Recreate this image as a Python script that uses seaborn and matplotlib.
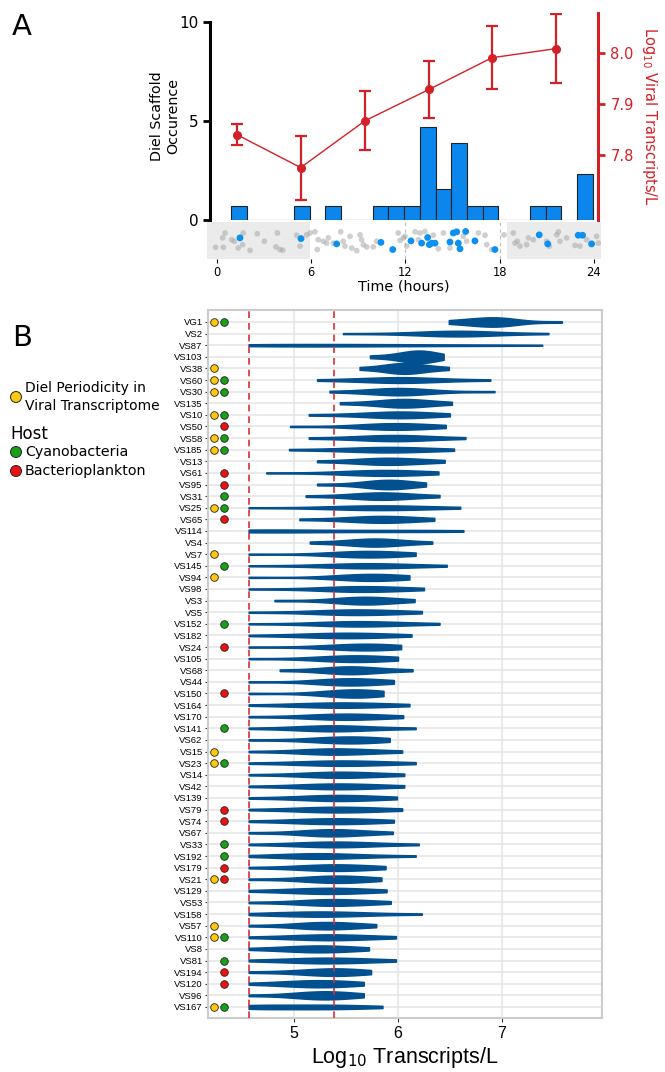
import matplotlib
matplotlib.use("Agg")
import matplotlib.pyplot as plt
import numpy as np
import pandas as pd
import seaborn as sns

# ---------------- Panel A data ----------------
bin_hour = [1, 2, 3, 4, 5, 6, 7, 8, 9, 10, 11, 12, 13, 14, 15, 16, 17, 18, 19, 20, 21, 22, 23]
scaffold_occurence = [0.72, 0, 0, 0, 0.72, 0, 0.72, 0, 0, 0.72, 0.72, 0.72,
                      4.67, 1.55, 3.9, 0.72, 0.72, 0, 0, 0.72, 0.72, 0, 2.32]

viral_hours = [1.27, 5.34, 9.43, 13.53, 17.51, 21.6]
viral_log = [7.84, 7.775, 7.867, 7.929, 7.991, 8.009]
viral_err = [0.021, 0.063, 0.058, 0.056, 0.062, 0.067]

# peak times of transcripts (strip under panel A)
gray_hours = [-0.07, 0.42, 0.53, 0.38, 0.95, 1.12, 1.37, 1.65, 1.69, 2.12, 2.58, 3.03,
              3.77, 3.86, 4.03, 4.20, 5.09, 5.30, 5.41, 5.72, 5.94, 6.25, 6.40, 6.46,
              6.78, 6.99, 7.10, 7.42, 7.89, 8.05, 8.16, 8.48, 8.59, 8.91, 9.12, 9.22,
              9.33, 9.54, 9.96, 10.18, 11.55, 11.66, 11.87, 11.98, 12.09, 12.62, 12.83,
              12.93, 13.25, 13.78, 14.10, 14.42, 14.84, 15.69, 15.90, 16.65, 17.07,
              17.18, 17.49, 18.28, 18.87, 18.98, 19.13, 19.30, 19.72, 19.83, 20.15,
              20.99, 21.16, 21.63, 21.74, 21.84, 22.26, 22.80, 23.11, 23.54, 24.17, 24.28]
gray_jitter = [0.32, 0.32, 0.70, 0.57, 0.52, 0.48, 0.30, 0.39, 0.70, 0.24, 0.68, 0.48,
               0.33, 0.70, 0.26, 0.24, 0.64, 0.35, 0.55, 0.65, 0.70, 0.73, 0.26, 0.52,
               0.48, 0.43, 0.57, 0.43, 0.73, 0.48, 0.35, 0.61, 0.30, 0.23, 0.65, 0.52,
               0.39, 0.33, 0.33, 0.48, 0.70, 0.50, 0.57, 0.61, 0.35, 0.73, 0.52,
               0.70, 0.74, 0.64, 0.28, 0.70, 0.30, 0.61, 0.48, 0.70, 0.64,
               0.39, 0.26, 0.65, 0.70, 0.43, 0.48, 0.35, 0.39, 0.57, 0.52,
               0.48, 0.35, 0.65, 0.73, 0.48, 0.57, 0.37, 0.35, 0.52, 0.61, 0.43]
blue_hours = [1.48, 5.36, 7.63, 10.45, 11.20, 12.36, 13.04, 13.42, 13.53, 13.68, 13.89,
              14.84, 15.05, 15.27, 15.37, 15.48, 15.84, 16.43, 17.70, 20.52, 21.06,
              23.0, 23.28, 23.85]
blue_jitter = [0.57, 0.55, 0.41, 0.45, 0.26, 0.49, 0.43, 0.58, 0.39, 0.43, 0.43,
               0.46, 0.70, 0.73, 0.43, 0.28, 0.74, 0.49, 0.26, 0.65, 0.41,
               0.64, 0.64, 0.41]

# ---------------- Panel B data ----------------
scaffolds = ["VG1", "VS2", "VS87", "VS103", "VS38", "VS60", "VS30", "VS135", "VS10", "VS50",
             "VS58", "VS185", "VS13", "VS61", "VS95", "VS31", "VS25", "VS65", "VS114", "VS4",
             "VS7", "VS145", "VS94", "VS98", "VS3", "VS5", "VS152", "VS182", "VS24", "VS105",
             "VS68", "VS44", "VS150", "VS164", "VS170", "VS141", "VS62", "VS15", "VS23", "VS14",
             "VS42", "VS139", "VS79", "VS74", "VS67", "VS33", "VS192", "VS179", "VS21", "VS129",
             "VS53", "VS158", "VS57", "VS110", "VS8", "VS81", "VS194", "VS120", "VS96", "VS167"]

diel = ["VG1", "VS38", "VS60", "VS30", "VS10", "VS58", "VS185", "VS25", "VS7", "VS94",
        "VS15", "VS23", "VS21", "VS57", "VS110", "VS167"]
cyanobacteria = ["VG1", "VS60", "VS30", "VS10", "VS58", "VS185", "VS31", "VS25", "VS145",
                 "VS152", "VS141", "VS23", "VS33", "VS192", "VS110", "VS81", "VS167"]
bacterioplankton = ["VS50", "VS61", "VS95", "VS65", "VS24", "VS150", "VS79", "VS74",
                    "VS179", "VS21", "VS194", "VS120"]

# log10 transcripts/L per scaffold
transcripts = [
    [6.49, 6.6, 6.72, 6.82, 6.88, 6.92, 6.95, 6.98, 7.05, 7.15, 7.58],
    [5.47, 6.15, 6.35, 6.48, 6.55, 6.6, 6.65, 6.75, 6.9, 7.45],
    [4.56, 4.7, 4.9, 5.1, 5.4, 5.7, 6.0, 6.4, 6.9, 7.39],
    [5.73, 5.95, 6.05, 6.12, 6.17, 6.2, 6.23, 6.28, 6.35, 6.44],
    [5.63, 5.85, 5.95, 6.0, 6.05, 6.08, 6.12, 6.2, 6.3, 6.49],
    [5.22, 5.6, 5.8, 5.92, 6.0, 6.05, 6.12, 6.25, 6.45, 6.89],
    [5.34, 5.75, 5.88, 5.95, 6.0, 6.03, 6.08, 6.15, 6.3, 6.93],
    [5.44, 5.75, 5.88, 5.97, 6.03, 6.07, 6.12, 6.2, 6.32, 6.52],
    [5.14, 5.55, 5.75, 5.88, 5.96, 6.02, 6.08, 6.18, 6.3, 6.5],
    [4.96, 5.6, 5.75, 5.86, 5.93, 5.98, 6.05, 6.15, 6.3, 6.46],
    [5.14, 5.55, 5.72, 5.85, 5.93, 5.99, 6.06, 6.17, 6.32, 6.65],
    [4.95, 5.4, 5.6, 5.75, 5.85, 5.92, 6.0, 6.12, 6.3, 6.54],
    [5.22, 5.55, 5.7, 5.8, 5.87, 5.93, 6.0, 6.1, 6.25, 6.45],
    [4.73, 5.4, 5.6, 5.72, 5.82, 5.88, 5.95, 6.05, 6.2, 6.39],
    [5.22, 5.6, 5.75, 5.83, 5.88, 5.91, 5.95, 6.02, 6.12, 6.27],
    [5.11, 5.5, 5.65, 5.75, 5.81, 5.86, 5.92, 6.0, 6.15, 6.4],
    [4.56, 5.3, 5.5, 5.65, 5.77, 5.85, 5.95, 6.08, 6.25, 6.6],
    [5.05, 5.45, 5.6, 5.72, 5.8, 5.86, 5.93, 6.02, 6.15, 6.35],
    [4.56, 4.58, 4.62, 4.7, 5.0, 5.4, 5.8, 6.1, 6.4, 6.63],
    [5.15, 5.45, 5.6, 5.7, 5.75, 5.79, 5.85, 5.93, 6.05, 6.33],
    [4.56, 5.3, 5.48, 5.6, 5.67, 5.72, 5.78, 5.86, 5.98, 6.17],
    [4.56, 5.2, 5.42, 5.57, 5.66, 5.73, 5.82, 5.95, 6.12, 6.47],
    [4.56, 5.35, 5.52, 5.63, 5.7, 5.75, 5.8, 5.87, 5.97, 6.11],
    [4.56, 5.2, 5.38, 5.5, 5.6, 5.68, 5.76, 5.86, 6.0, 6.25],
    [4.81, 5.35, 5.5, 5.6, 5.65, 5.69, 5.74, 5.82, 5.93, 6.16],
    [4.56, 5.15, 5.32, 5.45, 5.55, 5.63, 5.72, 5.83, 5.98, 6.23],
    [4.56, 5.2, 5.36, 5.48, 5.57, 5.65, 5.74, 5.86, 6.05, 6.4],
    [4.56, 5.0, 5.18, 5.32, 5.43, 5.53, 5.63, 5.74, 5.88, 6.13],
    [4.56, 5.2, 5.4, 5.53, 5.62, 5.68, 5.74, 5.82, 5.92, 6.03],
    [4.56, 5.18, 5.33, 5.44, 5.52, 5.6, 5.67, 5.76, 5.87, 6.0],
    [4.86, 5.25, 5.38, 5.47, 5.52, 5.56, 5.61, 5.7, 5.85, 6.14],
    [4.56, 5.2, 5.33, 5.42, 5.49, 5.55, 5.61, 5.7, 5.82, 5.96],
    [4.56, 5.2, 5.38, 5.48, 5.54, 5.58, 5.62, 5.68, 5.76, 5.86],
    [4.56, 4.98, 5.15, 5.28, 5.39, 5.49, 5.6, 5.72, 5.88, 6.11],
    [4.56, 5.08, 5.24, 5.35, 5.44, 5.52, 5.6, 5.7, 5.84, 6.05],
    [4.56, 5.02, 5.16, 5.27, 5.35, 5.41, 5.48, 5.6, 5.8, 6.17],
    [4.56, 5.1, 5.26, 5.38, 5.46, 5.53, 5.6, 5.68, 5.78, 5.92],
    [4.56, 5.05, 5.18, 5.28, 5.36, 5.43, 5.51, 5.62, 5.8, 6.04],
    [4.56, 5.0, 5.18, 5.3, 5.4, 5.5, 5.6, 5.72, 5.88, 6.17],
    [4.56, 5.05, 5.2, 5.31, 5.4, 5.47, 5.55, 5.66, 5.82, 6.06],
    [4.56, 5.0, 5.15, 5.27, 5.37, 5.46, 5.55, 5.66, 5.82, 6.06],
    [4.56, 5.0, 5.15, 5.27, 5.37, 5.45, 5.54, 5.64, 5.78, 5.99],
    [4.56, 4.98, 5.14, 5.26, 5.36, 5.45, 5.55, 5.66, 5.82, 6.04],
    [4.56, 4.95, 5.1, 5.22, 5.32, 5.42, 5.52, 5.62, 5.76, 5.96],
    [4.56, 5.05, 5.18, 5.27, 5.34, 5.39, 5.45, 5.54, 5.68, 5.95],
    [4.56, 5.0, 5.15, 5.27, 5.36, 5.43, 5.52, 5.63, 5.82, 6.2],
    [4.56, 4.9, 5.03, 5.13, 5.21, 5.3, 5.4, 5.53, 5.75, 6.17],
    [4.56, 4.98, 5.13, 5.24, 5.33, 5.41, 5.49, 5.58, 5.7, 5.88],
    [4.56, 5.05, 5.18, 5.28, 5.36, 5.42, 5.49, 5.57, 5.68, 5.84],
    [4.56, 4.9, 5.05, 5.17, 5.27, 5.36, 5.45, 5.55, 5.68, 5.89],
    [4.56, 5.02, 5.15, 5.26, 5.34, 5.4, 5.48, 5.58, 5.72, 5.93],
    [4.56, 4.85, 5.0, 5.12, 5.22, 5.32, 5.43, 5.56, 5.76, 6.23],
    [4.56, 4.98, 5.1, 5.2, 5.27, 5.33, 5.4, 5.49, 5.62, 5.79],
    [4.56, 4.92, 5.07, 5.19, 5.29, 5.38, 5.47, 5.58, 5.74, 5.98],
    [4.56, 4.85, 4.98, 5.09, 5.18, 5.26, 5.34, 5.43, 5.55, 5.72],
    [4.56, 4.9, 5.05, 5.17, 5.27, 5.36, 5.46, 5.57, 5.74, 5.98],
    [4.56, 4.95, 5.12, 5.24, 5.32, 5.38, 5.44, 5.52, 5.62, 5.74],
    [4.56, 4.85, 4.98, 5.08, 5.17, 5.25, 5.33, 5.42, 5.53, 5.67],
    [4.56, 4.95, 5.08, 5.17, 5.24, 5.3, 5.36, 5.44, 5.54, 5.67],
    [4.56, 4.58, 4.65, 4.85, 5.05, 5.2, 5.32, 5.45, 5.6, 5.85],
]
thresholds = [4.563, 5.386]

# ---------------- colours ----------------
BAR_BLUE = "#0a86ec"
RED = "#d42027"
VIOLIN_BLUE = "#02508f"
DOT_BLUE = "#0a90f0"
YELLOW = "#ffc80a"
GREEN = "#18a018"
HOST_RED = "#ee1111"

sns.set_style("white")
plt.rcParams["font.family"] = ["DejaVu Sans"]
plt.rcParams.update({"text.color": "black", "axes.labelcolor": "black",
                     "xtick.color": "black", "ytick.color": "black"})

fig = plt.figure(figsize=(6.65, 10.72), dpi=100)

# ---------------- Panel A ----------------
ax_a = fig.add_axes([0.3162, 0.7948, 0.5838, 0.1931])
ax_a.bar(np.array(bin_hour) - 0.08, scaffold_occurence, width=1.0, align="edge",
         color=BAR_BLUE, edgecolor="#222222", linewidth=0.8, zorder=2)
ax_a.set_xlim(-0.41, 24.29)
ax_a.set_ylim(0, 10.44)
ax_a.set_xticks([])
ax_a.set_yticks([0, 5, 10])
for side in ["top", "bottom", "right"]:
    ax_a.spines[side].set_visible(False)
ax_a.spines["left"].set_bounds(0, 10)
ax_a.spines["left"].set_linewidth(2.2)
ax_a.spines["left"].set_color("black")
ax_a.tick_params(axis="y", length=5, width=2, labelsize=11, direction="out", left=True)
ax_a.set_ylabel("Diel Scaffold\nOccurence", fontsize=10.3, labelpad=-1, linespacing=1.2)

ax_r = ax_a.twinx()
ax_r.errorbar(viral_hours, viral_log, yerr=viral_err, color=RED, lw=1.0,
              marker="o", markersize=5.5, elinewidth=1.6, capsize=4, capthick=1.6)
ax_r.set_ylim(7.672, 8.079)
ax_r.set_xlim(-0.41, 24.29)
for side in ["top", "bottom", "left"]:
    ax_r.spines[side].set_visible(False)
ax_r.spines["right"].set_color(RED)
ax_r.spines["right"].set_linewidth(2.2)
ax_r.set_yticks([7.8, 7.9, 8.0])
ax_r.tick_params(axis="y", colors=RED, length=5, width=2, labelsize=10.5, right=True)
ax_r.set_ylabel("Log$_{10}$ Viral Transcripts/L", color=RED, fontsize=10.5,
                rotation=270, labelpad=18)

# strip of peak times
ax_s = fig.add_axes([0.3117, 0.7581, 0.5923, 0.0351])
ax_s.axvspan(-0.6, 5.95, color="#ebebeb", lw=0, zorder=0)
ax_s.axvspan(18.47, 24.46, color="#ebebeb", lw=0, zorder=0)
for h in [12, 18]:
    ax_s.axvline(h, color="#bbbbbb", lw=0.8, ls=(0, (3, 3)), zorder=1)
sns.scatterplot(x=gray_hours, y=gray_jitter, color="#a8a8a8", alpha=0.55, s=17,
                edgecolor="none", ax=ax_s, zorder=2)
sns.scatterplot(x=blue_hours, y=blue_jitter, color=DOT_BLUE, s=24,
                edgecolor="none", ax=ax_s, zorder=3)
ax_s.set_xlim(-0.6, 24.46)
ax_s.set_ylim(0, 1)
for side in ax_s.spines:
    ax_s.spines[side].set_visible(False)
ax_s.set_yticks([])
ax_s.set_xticks([0, 6, 12, 18, 24])
ax_s.tick_params(axis="x", length=3, width=0.8, labelsize=8.3, bottom=True, pad=2)
ax_s.set_xlabel("Time (hours)", fontsize=10.4, labelpad=0)

# ---------------- Panel B ----------------
df = pd.DataFrame({
    "scaffold": [s for s, vals in zip(scaffolds, transcripts) for _ in vals],
    "log_tpl": [v for vals in transcripts for v in vals],
})

ax_b = fig.add_axes([0.3132, 0.0504, 0.5916, 0.6604])
sns.violinplot(data=df, x="log_tpl", y="scaffold", order=scaffolds, orient="h",
               cut=0, density_norm="area", inner=None, width=1.08, saturation=1,
               color=VIOLIN_BLUE, linecolor=VIOLIN_BLUE, linewidth=1.1, ax=ax_b, zorder=3)
for t in thresholds:
    ax_b.axvline(t, color="#d93030", lw=1.2, ls=(0, (4, 3)), zorder=5)

diel_rows = [s for s in scaffolds if s in diel]
cyano_rows = [s for s in scaffolds if s in cyanobacteria]
bact_rows = [s for s in scaffolds if s in bacterioplankton]
sns.scatterplot(x=[4.229] * len(diel_rows), y=diel_rows, color=YELLOW, s=30,
                edgecolor="#222222", linewidth=0.6, ax=ax_b, zorder=6)
sns.scatterplot(x=[4.325] * len(cyano_rows), y=cyano_rows, color=GREEN, s=30,
                edgecolor="#222222", linewidth=0.6, ax=ax_b, zorder=6)
sns.scatterplot(x=[4.325] * len(bact_rows), y=bact_rows, color=HOST_RED, s=30,
                edgecolor="#222222", linewidth=0.6, ax=ax_b, zorder=6)

ax_b.set_xlim(4.171, 7.964)
ax_b.set_ylim(59.95, -1.03)
ax_b.set_xticks([5, 6, 7])
ax_b.set_yticks(range(len(scaffolds)))
ax_b.set_yticklabels(scaffolds)
ax_b.grid(True, color="#e6e6e6", lw=1.2, zorder=0)
ax_b.set_axisbelow(True)
for side in ax_b.spines:
    ax_b.spines[side].set_visible(True)
    ax_b.spines[side].set_color("#cccccc")
    ax_b.spines[side].set_linewidth(1.5)
ax_b.tick_params(axis="y", length=2.5, width=0.8, color="#333333", labelsize=6.8,
                 pad=1.5, left=True)
ax_b.tick_params(axis="x", length=3, width=0.8, color="#333333", labelsize=11.5,
                 pad=3, bottom=True)
for lab in ax_b.get_yticklabels() + ax_b.get_xticklabels():
    lab.set_fontfamily(["Liberation Sans", "DejaVu Sans"])
ax_b.set_ylabel("")
ax_b.set_xlabel("Log$_{10}$ Transcripts/L", fontsize=15.5, family=["Liberation Sans"], labelpad=3)

# ---------------- labels and legend ----------------
ax_o = fig.add_axes([0, 0, 1, 1])
ax_o.set_xlim(0, 665)
ax_o.set_ylim(1072, 0)
ax_o.axis("off")
ax_o.text(22, 27, "A", fontsize=21, ha="center", va="center")
ax_o.text(22, 338, "B", fontsize=21, ha="center", va="center")
ax_o.scatter([16, 16, 16], [397, 452, 471], s=62, c=[YELLOW, GREEN, HOST_RED],
             edgecolors="#222222", linewidths=0.7)
ax_o.text(25, 397, "Diel Periodicity in\nViral Transcriptome", fontsize=10,
          va="center", ha="left", linespacing=1.35)
ax_o.text(10, 434, "Host", fontsize=12, va="center", ha="left")
ax_o.text(25, 452, "Cyanobacteria", fontsize=10.3, va="center", ha="left")
ax_o.text(25, 471, "Bacterioplankton", fontsize=10.3, va="center", ha="left")

fig.savefig("out.png", dpi=100)
